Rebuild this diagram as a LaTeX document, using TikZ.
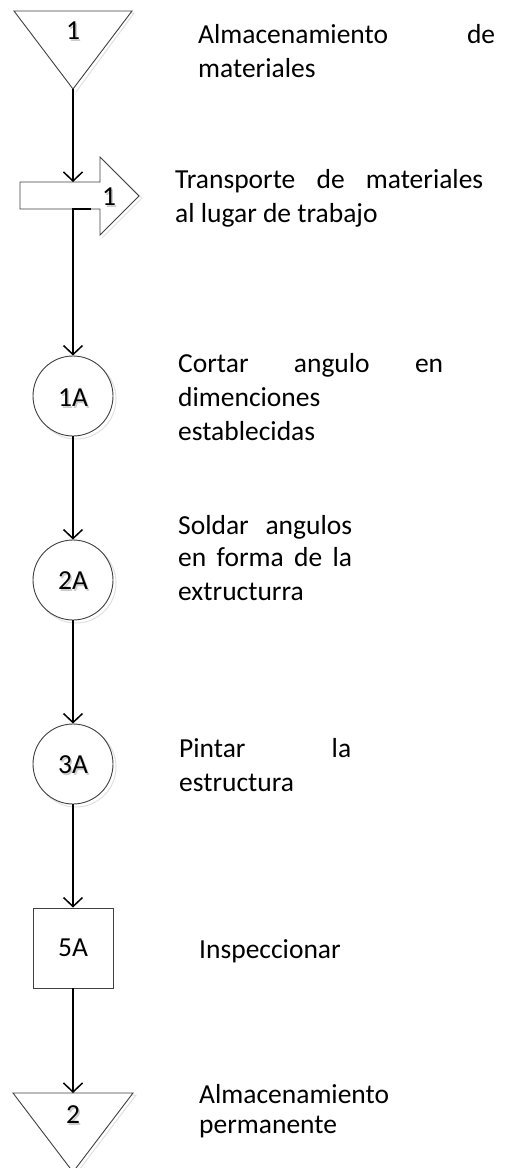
\documentclass[tikz,border=0pt]{standalone}
\usepackage{fontspec}
\setmainfont{Carlito}
\usetikzlibrary{arrows.meta}
\begin{document}
\begin{tikzpicture}[x=1pt,y=-1pt,
  shp/.style={draw=black!75, line width=0.9pt, fill=white},
  shd/.style={draw=black!12, line width=1pt},
  flow/.style={draw=black, line width=1.5pt, -{Straight Barb[length=9pt,width=19pt]}},
  lbl/.style={font=\fontsize{27.5}{33}\selectfont, inner sep=0pt},
  lblshd/.style={lbl, text=black!20},
  txt/.style={font=\fontsize{27.5}{34}\selectfont, inner sep=0pt, anchor=base west, align=left},
  circ/.style={shp, circle, minimum size=80pt, inner sep=0pt},
  sqr/.style={shp, rectangle, minimum size=80pt, inner sep=0pt, font=\fontsize{27.5}{33}\selectfont},
]
\useasboundingbox (0,0) rectangle (510,1168);

% --- triangle 1 (storage)
\draw[shd] (16,13) -- (134,13) -- (76,92);
\draw[shp] (14,11) -- (132,11) -- (73,89) -- cycle;
\coordinate (tri1apex) at (73,89);
\node[lblshd] at (74.5,32.5) {1};
\node[lbl] (tri1lbl) at (73,31) {1};

% --- block arrow 1 (transport)
\draw[shd] (22,184) -- (102,184) -- (102,159) -- (142,198) -- (102,238);
\draw[shp] (20,182) -- (100,182) -- (100,157) -- (139,196) -- (100,235) -- (100,209) -- (20,209) -- cycle;
\coordinate (a1top) at (73,182);
\coordinate (a1out) at (91,209);
\node[lblshd] at (110.5,198.5) {1};
\node[lbl] (a1lbl) at (109,197) {1};

% --- operations
\draw[shd] (76,399) circle (40);
\node[circ] (c1) at (73,396) {};
\node[lblshd] at (74.5,399.5) {1A};
\node[lbl] (c1lbl) at (73,398) {1A};

\draw[shd] (76,583) circle (40);
\node[circ] (c2) at (73,580) {};
\node[lblshd] at (74.5,582.5) {2A};
\node[lbl] (c2lbl) at (73,581) {2A};

\draw[shd] (76,767) circle (40);
\node[circ] (c3) at (73,764) {};
\node[lblshd] at (74.5,766.5) {3A};
\node[lbl] (c3lbl) at (73,765) {3A};

% --- inspection
\node[sqr] (sq) at (73,948) {5A};

% --- triangle 2 (storage)
\draw[shd] (16,1095) -- (136,1095) -- (76,1174);
\draw[shp] (13,1093) -- (133,1093) -- (73,1172) -- cycle;
\coordinate (tri2top) at (73,1093);
\node[lblshd] at (74.5,1116.5) {2};
\node[lbl] (tri2lbl) at (73,1115) {2};

% --- connectors
\draw[flow] (tri1apex) -- (a1top);
\draw[flow] (a1out) -| (c1.north);
\draw[flow] (c1.south) -- (c2.north);
\draw[flow] (c2.south) -- (c3.north);
\draw[flow] (c3.south) -- (sq.north);
\draw[flow] (sq.south) -- (tri2top);

% --- descriptions (anchor = baseline of last line)
\node[txt] (d1) at (198,77) {\hbox to 297pt{Almacenamiento\hfill de}\\materiales};
\node[txt] (d2) at (175,222) {\hbox to 308pt{Transporte\hfill de\hfill materiales}\\al lugar de trabajo};
\node[txt] (d3) at (178,440) {\hbox to 265pt{Cortar\hfill angulo\hfill en}\\dimenciones\\establecidas};
\node[txt] (d4) at (178,600) {\hbox to 174pt{Soldar\hfill angulos}\\[-2pt]\hbox to 174pt{en\hfill forma\hfill de\hfill la}\\extructurra};
\node[txt] (d5) at (179,791) {\hbox to 172pt{Pintar\hfill la}\\estructura};
\node[txt] (d6) at (199,958) {Inspeccionar};
\node[txt] (d7) at (199,1133) {Almacenamiento\\[-4pt]permanente};
\end{tikzpicture}
\end{document}
